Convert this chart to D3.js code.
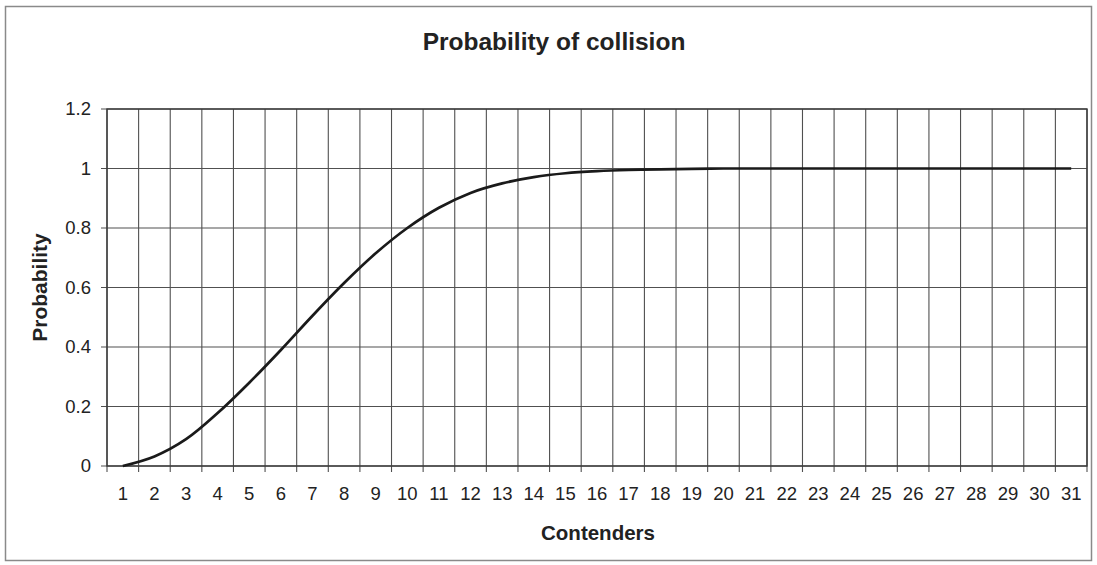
<!DOCTYPE html>
<html>
<head>
<meta charset="utf-8">
<script src="https://cdn.jsdelivr.net/npm/d3@7"></script>
<style>
  html, body { margin: 0; padding: 0; background: #fff; }
  svg { display: block; font-family: Arial, "Liberation Sans", Helvetica, sans-serif; }
</style>
</head>
<body>
<svg id="chart" width="1097" height="565"></svg>
<script>
// Number of contenders on the category axis
const contenders = d3.range(1, 32);
// Probability that at least two contenders collide
const probability = [
  0, 0.032, 0.09, 0.178, 0.28, 0.39, 0.505, 0.615, 0.715, 0.80,
  0.868, 0.918, 0.95, 0.971, 0.984, 0.991, 0.995, 0.997, 0.999, 1,
  1, 1, 1, 1, 1, 1, 1, 1, 1, 1, 1
];
const yTicks = [0, 0.2, 0.4, 0.6, 0.8, 1, 1.2];
const yTickLabels = ["0", "0.2", "0.4", "0.6", "0.8", "1", "1.2"];

const titleText = "Probability of collision";
const xTitle = "Contenders";
const yTitle = "Probability";

const svg = d3.select("#chart");
const W = 1097, H = 565;
const plot = { left: 107, right: 1087, top: 109, bottom: 466 };

svg.append("rect").attr("width", W).attr("height", H).attr("fill", "#fff");

// Outer chart frame
svg.append("rect")
  .attr("x", 5.5).attr("y", 6.5)
  .attr("width", 1086).attr("height", 554)
  .attr("fill", "none")
  .attr("stroke", "#8a8a8a")
  .attr("stroke-width", 1.5);

const x = d3.scaleBand()
  .domain(contenders)
  .range([plot.left, plot.right])
  .padding(0);

const y = d3.scaleLinear()
  .domain([0, 1.2])
  .range([plot.bottom, plot.top]);

const gridColor = "#505050";

// Vertical gridlines on category boundaries
const edges = contenders.map(c => x(c)).concat([x.range()[1]]);
svg.append("g")
  .selectAll("line")
  .data(edges)
  .join("line")
  .attr("x1", d => d).attr("x2", d => d)
  .attr("y1", plot.top).attr("y2", plot.bottom + 6)
  .attr("stroke", gridColor)
  .attr("stroke-width", 1.1);

// Horizontal gridlines
svg.append("g")
  .selectAll("line")
  .data(yTicks)
  .join("line")
  .attr("x1", plot.left - 6).attr("x2", plot.right)
  .attr("y1", d => y(d)).attr("y2", d => y(d))
  .attr("stroke", gridColor)
  .attr("stroke-width", 1.1);

// Plot area frame
svg.append("rect")
  .attr("x", plot.left).attr("y", plot.top)
  .attr("width", plot.right - plot.left)
  .attr("height", plot.bottom - plot.top)
  .attr("fill", "none")
  .attr("stroke", "#3a3a3a")
  .attr("stroke-width", 1.4);

// Y axis labels
const yAxis = d3.axisLeft(y)
  .tickValues(yTicks)
  .tickFormat((d, i) => yTickLabels[i])
  .tickSize(0)
  .tickPadding(16);
const gy = svg.append("g").attr("transform", `translate(${plot.left},0)`).call(yAxis);
gy.select(".domain").remove();
gy.selectAll("text")
  .attr("font-size", 18.5)
  .attr("font-family", "Arial, 'Liberation Sans', sans-serif")
  .attr("fill", "#222");

// X axis labels
const xAxis = d3.axisBottom(x).tickSize(0).tickPadding(21);
const gx = svg.append("g").attr("transform", `translate(0,${plot.bottom})`).call(xAxis);
gx.select(".domain").remove();
gx.selectAll("text")
  .attr("font-size", 18.5)
  .attr("font-family", "Arial, 'Liberation Sans', sans-serif")
  .attr("fill", "#222");

// Probability curve, smoothed through every point
const line = d3.line()
  .x((d, i) => x(contenders[i]) + x.bandwidth() / 2)
  .y(d => y(d))
  .curve(d3.curveCatmullRom.alpha(0.5));

svg.append("path")
  .datum(probability)
  .attr("d", line)
  .attr("fill", "none")
  .attr("stroke", "#1a1a1a")
  .attr("stroke-width", 2.7)
  .attr("stroke-linejoin", "round");

// Titles
svg.append("text")
  .attr("x", 554).attr("y", 50)
  .attr("text-anchor", "middle")
  .attr("font-size", 24.5)
  .attr("font-weight", "bold")
  .attr("fill", "#222")
  .text(titleText);

svg.append("text")
  .attr("x", 598).attr("y", 540)
  .attr("text-anchor", "middle")
  .attr("font-size", 20.5)
  .attr("font-weight", "bold")
  .attr("fill", "#222")
  .text(xTitle);

svg.append("text")
  .attr("transform", `translate(47,${(plot.top + plot.bottom) / 2}) rotate(-90)`)
  .attr("text-anchor", "middle")
  .attr("font-size", 21)
  .attr("font-weight", "bold")
  .attr("fill", "#222")
  .text(yTitle);
</script>
</body>
</html>
